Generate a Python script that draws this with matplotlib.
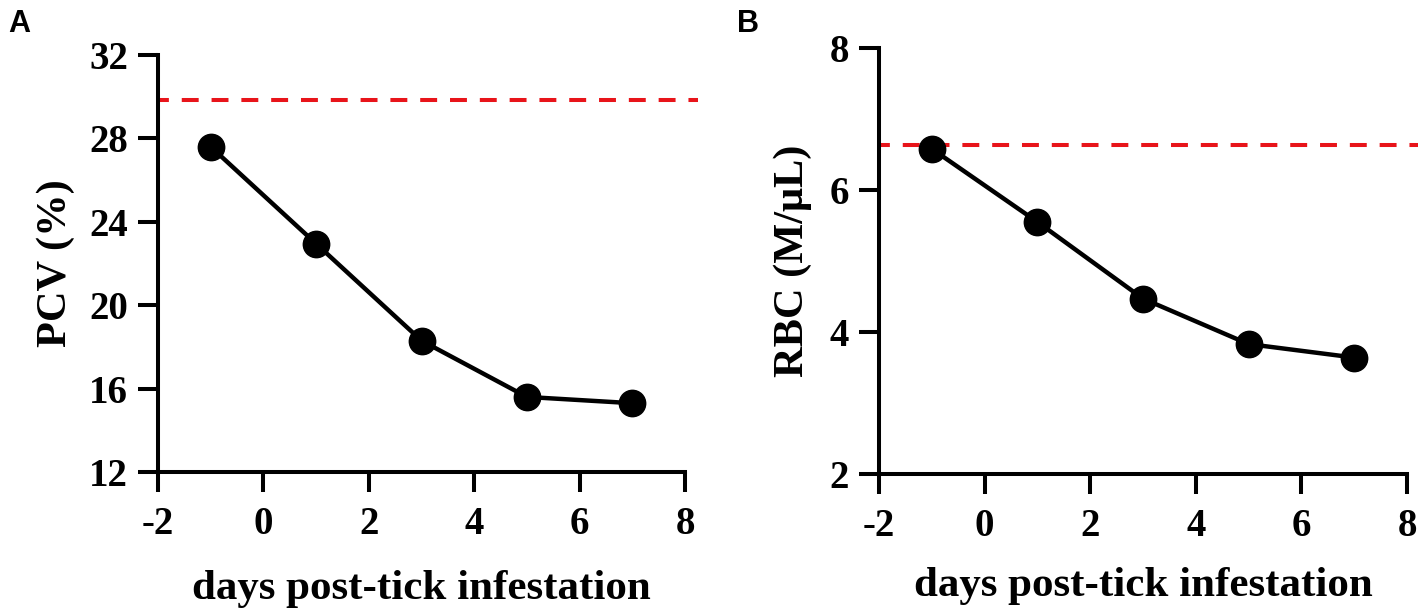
import matplotlib
matplotlib.use("Agg")
import matplotlib.pyplot as plt

days = [-1, 1, 3, 5, 7]
pcv = [27.6, 22.95, 18.3, 15.6, 15.3]
rbc = [6.58, 5.55, 4.47, 3.83, 3.64]
pcv_ref = 29.85
rbc_ref = 6.64
xticks = [-2, 0, 2, 4, 6, 8]
pcv_ticks = [12, 16, 20, 24, 28, 32]
rbc_ticks = [2, 4, 6, 8]

serif = ["Liberation Serif", "DejaVu Serif"]
fig = plt.figure(figsize=(14.18, 6.16), dpi=100)
axA = fig.add_axes([158/1418, 1-472/616, 527/1418, (472-55)/616])
axB = fig.add_axes([879/1418, 1-474/616, 528/1418, (474-48)/616])

def style(ax, y, ref, ylim, yticks, ylabel, labelx, xlabely):
    ax.plot(days, y, color="black", lw=3.2, marker="o", markersize=19,
            markerfacecolor="black", markeredgecolor="black", zorder=3, clip_on=False)
    ax.plot([-2, 8.25], [ref, ref], color="#e8141a", lw=2.9,
            linestyle=(1.5, (4.2, 3.2)), clip_on=False, zorder=2)
    ax.set_xlim(-2, 8)
    ax.set_ylim(*ylim)
    ax.set_xticks(xticks)
    ax.set_yticks(yticks)
    ax.set_xticklabels([str(t) for t in xticks], fontfamily=serif, fontweight="bold", fontsize=28)
    ax.set_yticklabels([str(t) for t in yticks], fontfamily=serif, fontweight="bold", fontsize=28)
    for s in ["top", "right"]:
        ax.spines[s].set_visible(False)
    for s in ["left", "bottom"]:
        ax.spines[s].set_linewidth(2.9)
    ax.tick_params(axis="both", direction="out", length=14.5, width=2.9)
    ax.tick_params(axis="y", pad=7)
    ax.tick_params(axis="x", pad=10)
    ax.set_xlabel("days post-tick infestation", fontfamily=serif, fontweight="bold",
                  fontsize=31)
    ax.xaxis.set_label_coords(0.5, xlabely)
    ax.set_ylabel(ylabel, fontfamily=serif, fontweight="bold", fontsize=30.5)
    ax.yaxis.set_label_coords(labelx, 0.5)

style(axA, pcv, pcv_ref, (12, 32), pcv_ticks, "PCV (%)", -0.157, -0.235)
style(axB, rbc, rbc_ref, (2, 8), rbc_ticks, "RBC (M/μL)", -0.126, -0.218)

fig.text(8/1418, 1-32/616, "A", fontfamily=["Liberation Sans", "DejaVu Sans"],
         fontweight="bold", fontsize=22)
fig.text(737/1418, 1-32/616, "B", fontfamily=["Liberation Sans", "DejaVu Sans"],
         fontweight="bold", fontsize=22)

fig.savefig("out.png", dpi=100)
